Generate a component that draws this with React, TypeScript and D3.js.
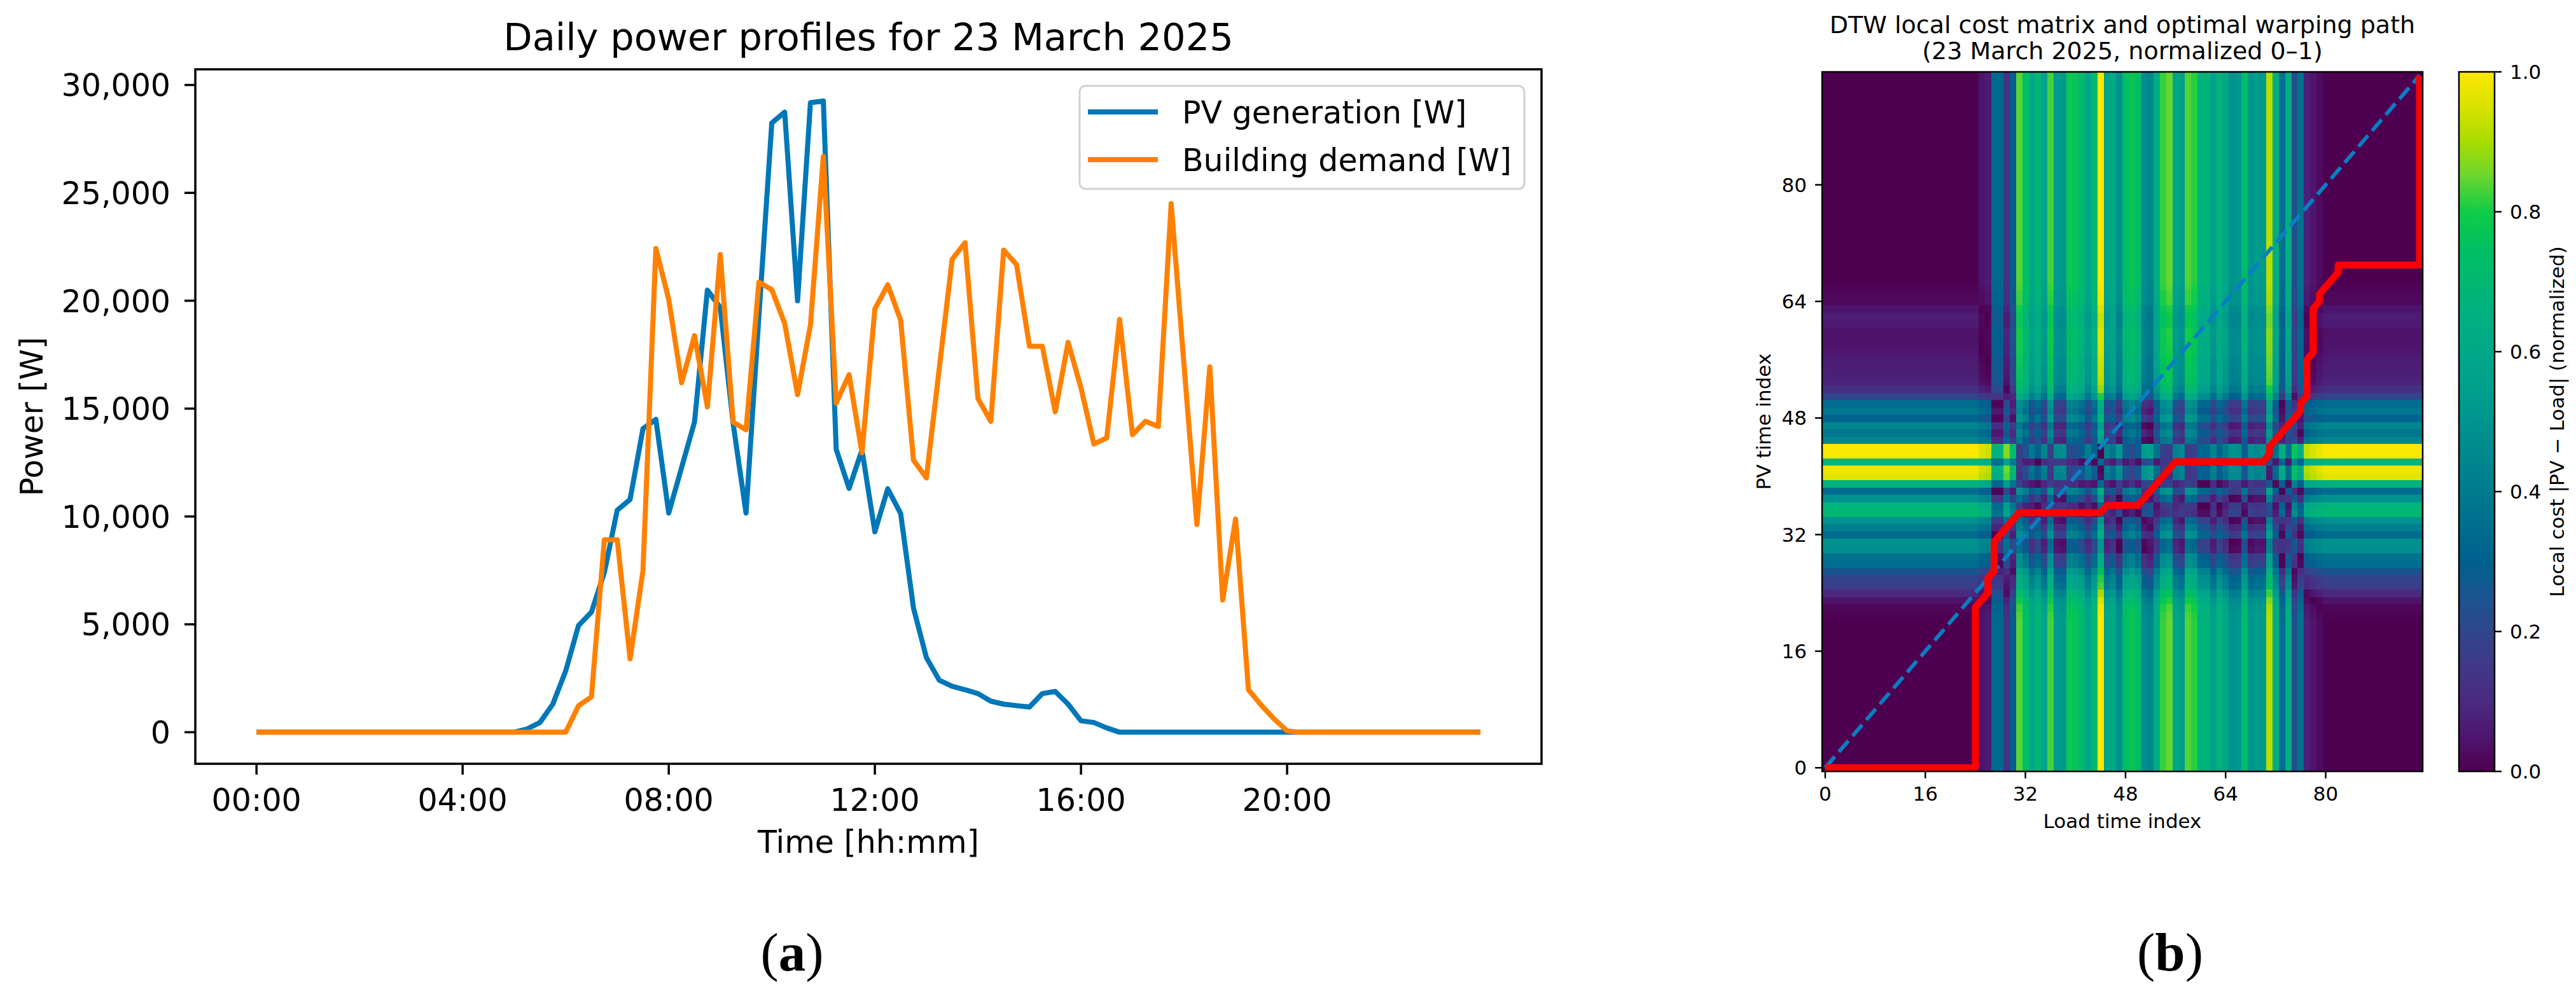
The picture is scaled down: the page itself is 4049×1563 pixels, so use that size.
import { useEffect } from "react";
import * as d3 from "d3";

// 15-minute samples, 00:00 .. 23:45 (index 0..95)
// one row = 3 hours (12 samples)
const pvGeneration = [
  0, 0, 0, 0, 0, 0, 0, 0, 0, 0, 0, 0,
  0, 0, 0, 0, 0, 0, 0, 0, 0, 150, 450, 1300,
  2840, 4950, 5570, 7400, 10290, 10790, 14070, 14500, 10160, 12270, 14380, 20490,
  19690, 14300, 10160, 19300, 28240, 28740, 20000, 29180, 29260, 13110, 11300, 13080,
  9290, 11280, 10140, 5750, 3460, 2410, 2130, 1970, 1790, 1440, 1300, 1230,
  1170, 1790, 1890, 1300, 530, 450, 200, 0, 0, 0, 0, 0,
  0, 0, 0, 0, 0, 0, 0, 0, 0, 0, 0, 0,
  0, 0, 0, 0, 0, 0, 0, 0, 0, 0, 0, 0,
];

const buildingDemand = [
  0, 0, 0, 0, 0, 0, 0, 0, 0, 0, 0, 0,
  0, 0, 0, 0, 0, 0, 0, 0, 0, 0, 0, 0,
  0, 1230, 1640, 8920, 8920, 3400, 7490, 22420, 20060, 16200, 18380, 15080,
  22140, 14370, 14020, 20860, 20510, 18950, 15650, 18880, 26690, 15260, 16570, 12950,
  19620, 20740, 19100, 12610, 11790, 16870, 21920, 22690, 15470, 14410, 22350, 21670,
  17890, 17890, 14850, 18070, 15960, 13360, 13640, 19130, 13790, 14410, 14170, 24500,
  17000, 9630, 16930, 6130, 9880, 1970, 1250, 610, 60, 0, 0, 0,
  0, 0, 0, 0, 0, 0, 0, 0, 0, 0, 0, 0,
];

const timeTicks = [0, 16, 32, 48, 64, 80];
const timeTickLabels = ["00:00", "04:00", "08:00", "12:00", "16:00", "20:00"];
const powerTicks = [0, 5000, 10000, 15000, 20000, 25000, 30000];
const indexTicks = [0, 16, 32, 48, 64, 80];
const costTicks = [0, 0.2, 0.4, 0.6, 0.8, 1.0];

// optimal warping path corners as [load index, pv index]
const warpPath: [number, number][] = [
  [0, 0], [24, 0], [24, 22], [26, 24], [26, 26], [27, 27], [27, 31], [31, 35],
  [44, 35], [45, 36], [50, 36], [56, 42], [70, 42], [71, 43], [71, 44], [76, 49],
  [76, 50], [77, 51], [77, 56], [78, 57], [78, 63], [79, 64], [79, 65], [82, 68],
  [82, 69], [95, 69], [95, 95],
];

// colour map as it appears in the picture
const costStops = [0, 0.05, 0.1, 0.15, 0.2, 0.25, 0.3, 0.35, 0.4, 0.45, 0.5,
  0.55, 0.6, 0.65, 0.7, 0.75, 0.8, 0.85, 0.9, 0.95, 1];
const costColors = ["#4e0050", "#4e1670", "#4a2a80", "#403888", "#30468c", "#1a5490",
  "#00608e", "#006e8e", "#007b8e", "#00888e", "#00948e", "#00a08c", "#00a888",
  "#00b080", "#00b872", "#00c060", "#10cc48", "#6ad630", "#a8dc00", "#d8e200", "#fde800"];

const FONT = "DejaVu Sans, Verdana, sans-serif";
const PV_COLOR = "#0077b8";
const LOAD_COLOR = "#ff8000";

export default function App() {
  useEffect(() => {
    document.body.style.margin = "0";
  }, []);

  // ---- (a) line chart
  const x = d3.scaleLinear().domain([-4.75, 99.75]).range([307, 2423]);
  const y = d3.scaleLinear().domain([-1463, 30726]).range([1201, 109]);
  const line = d3.line<number>().x((_, i) => x(i)).y((d) => y(d));
  const fmt = d3.format(",");

  // ---- (b) cost matrix
  const hx = d3.scaleLinear().domain([-0.5, 95.5]).range([2864, 3808]);
  const hy = d3.scaleLinear().domain([-0.5, 95.5]).range([1213, 113]);
  const cy = d3.scaleLinear().domain([0, 1]).range([1213, 113]);
  const color = d3.scaleLinear<string>().domain(costStops).range(costColors).clamp(true);

  const pvMax = d3.max(pvGeneration) || 1;
  const loadMax = d3.max(buildingDemand) || 1;
  const raw: number[][] = pvGeneration.map((p) =>
    buildingDemand.map((l) => Math.abs(p / pvMax - l / loadMax))
  );
  const costMax = d3.max(raw.flat()) || 1;
  const cw = hx(1) - hx(0);
  const ch = hy(0) - hy(1);

  const pathLine = d3.line<[number, number]>().x((d) => hx(d[0])).y((d) => hy(d[1]));

  return (
    <svg width={4049} height={1563} style={{ position: "absolute", left: 0, top: 0, background: "#fff" }}
      fontFamily={FONT}>
      <rect width={4049} height={1563} fill="#fff" />

      {/* ===== left chart ===== */}
      <text x={1365} y={79} fontSize={59} textAnchor="middle">Daily power profiles for 23 March 2025</text>
      <path d={line(pvGeneration) || ""} fill="none" stroke={PV_COLOR} strokeWidth={8} strokeLinejoin="round" />
      <path d={line(buildingDemand) || ""} fill="none" stroke={LOAD_COLOR} strokeWidth={8} strokeLinejoin="round" />
      <rect x={307} y={109} width={2423 - 307} height={1201 - 109} fill="none" stroke="#000" strokeWidth={3.5} />
      {timeTicks.map((t, i) => (
        <g key={"xt" + t}>
          <line x1={x(t)} x2={x(t)} y1={1201} y2={1218} stroke="#000" strokeWidth={3.5} />
          <text x={x(t)} y={1275} fontSize={49} textAnchor="middle">{timeTickLabels[i]}</text>
        </g>
      ))}
      {powerTicks.map((t) => (
        <g key={"yt" + t}>
          <line x1={290} x2={307} y1={y(t)} y2={y(t)} stroke="#000" strokeWidth={3.5} />
          <text x={268} y={y(t)} dy="0.36em" fontSize={49} textAnchor="end">{fmt(t)}</text>
        </g>
      ))}
      <text x={1365} y={1341} fontSize={49} textAnchor="middle">Time [hh:mm]</text>
      <text transform="translate(67,655) rotate(-90)" fontSize={49} textAnchor="middle">Power [W]</text>

      {/* legend */}
      <rect x={1697} y={135} width={699} height={162} rx={9} fill="#fff" fillOpacity={0.8} stroke="#d0d0d0" strokeWidth={3} />
      <line x1={1710} x2={1820} y1={176} y2={176} stroke={PV_COLOR} strokeWidth={8} />
      <text x={1858} y={176} dy="0.36em" fontSize={49}>PV generation [W]</text>
      <line x1={1710} x2={1820} y1={251} y2={251} stroke={LOAD_COLOR} strokeWidth={8} />
      <text x={1858} y={251} dy="0.36em" fontSize={49}>Building demand [W]</text>

      <text x={1245} y={1526} fontSize={85} textAnchor="middle" fontFamily="Liberation Serif, Times New Roman, serif">
        (<tspan fontWeight="bold">a</tspan>)
      </text>

      {/* ===== right chart ===== */}
      <text x={3336} y={52} fontSize={38} textAnchor="middle">DTW local cost matrix and optimal warping path</text>
      <text x={3336} y={93} fontSize={38} textAnchor="middle">(23 March 2025, normalized 0–1)</text>

      <defs>
        <clipPath id="heatClip">
          <rect x={2864} y={113} width={3808 - 2864} height={1213 - 113} />
        </clipPath>
        <linearGradient id="cbar" x1="0" y1="1" x2="0" y2="0">
          {costStops.map((s, i) => (
            <stop key={"st" + s} offset={s} stopColor={costColors[i]} />
          ))}
        </linearGradient>
      </defs>

      <g shapeRendering="crispEdges">
        {raw.map((row, i) =>
          row.map((v, j) => (
            <rect key={i + "-" + j} x={hx(j - 0.5)} y={hy(i + 0.5)} width={cw + 0.6} height={ch + 0.6}
              fill={color(v / costMax)} />
          ))
        )}
      </g>
      <g clipPath="url(#heatClip)">
        <line x1={hx(0)} y1={hy(0)} x2={hx(95)} y2={hy(95)} stroke="#0a7ec2" strokeWidth={6}
          strokeDasharray="23 10" />
        <path d={pathLine(warpPath) || ""} fill="none" stroke="#ff0000" strokeWidth={11} strokeLinejoin="round" />
      </g>
      <rect x={2864} y={113} width={3808 - 2864} height={1213 - 113} fill="none" stroke="#000" strokeWidth={2.5} />
      {indexTicks.map((t) => (
        <g key={"hx" + t}>
          <line x1={hx(t)} x2={hx(t)} y1={1213} y2={1224} stroke="#000" strokeWidth={2.5} />
          <text x={hx(t)} y={1259} fontSize={31} textAnchor="middle">{t}</text>
          <line x1={2853} x2={2864} y1={hy(t)} y2={hy(t)} stroke="#000" strokeWidth={2.5} />
          <text x={2840} y={hy(t)} dy="0.36em" fontSize={31} textAnchor="end">{t}</text>
        </g>
      ))}
      <text x={3336} y={1302} fontSize={31} textAnchor="middle">Load time index</text>
      <text transform="translate(2783,663) rotate(-90)" fontSize={31} textAnchor="middle">PV time index</text>

      {/* colour bar */}
      <rect x={3865} y={113} width={56} height={1100} fill="url(#cbar)" stroke="#000" strokeWidth={2.5} />
      {costTicks.map((t) => (
        <g key={"ct" + t}>
          <line x1={3921} x2={3932} y1={cy(t)} y2={cy(t)} stroke="#000" strokeWidth={2.5} />
          <text x={3945} y={cy(t)} dy="0.36em" fontSize={31}>{t.toFixed(1)}</text>
        </g>
      ))}
      <text transform="translate(4030,663) rotate(-90)" fontSize={31} textAnchor="middle">
        Local cost |PV − Load| (normalized)
      </text>

      <text x={3411} y={1526} fontSize={85} textAnchor="middle" fontFamily="Liberation Serif, Times New Roman, serif">
        (<tspan fontWeight="bold">b</tspan>)
      </text>
    </svg>
  );
}
